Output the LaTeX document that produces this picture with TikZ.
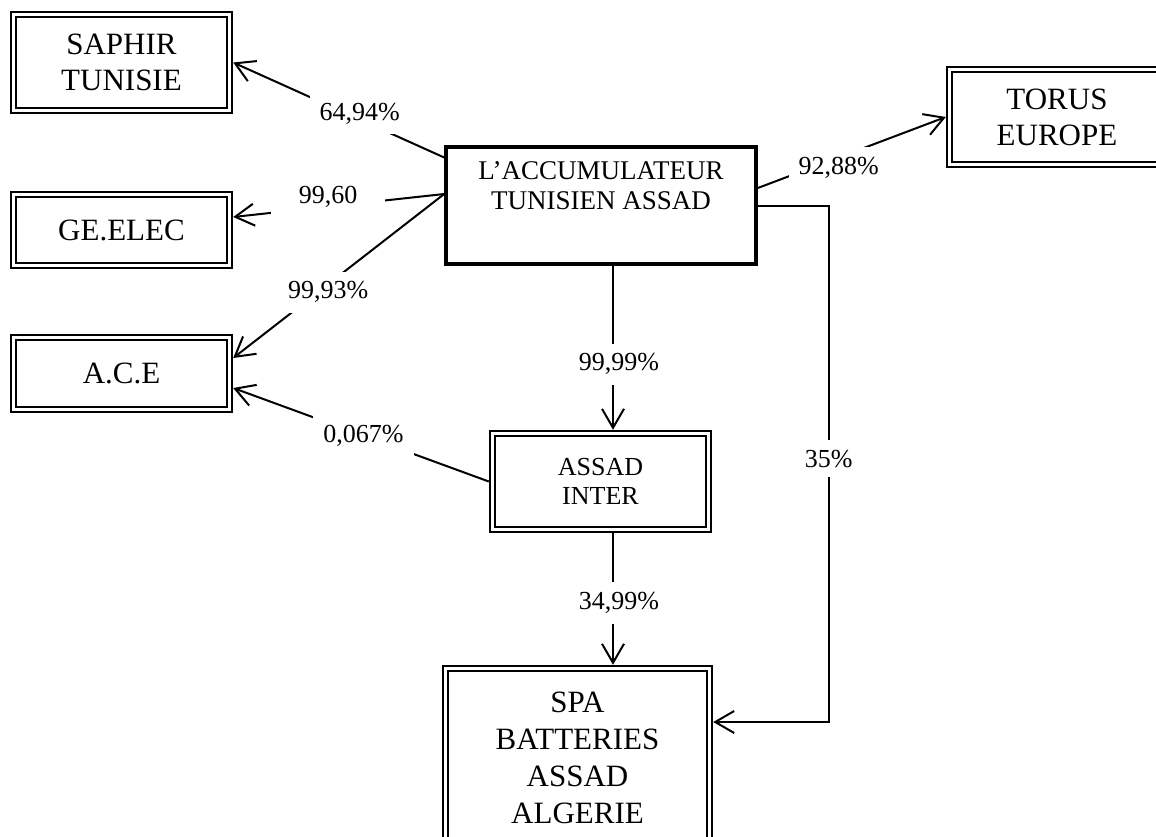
\documentclass[tikz,border=0pt]{standalone}
\usepackage{fontspec}
\setmainfont{Liberation Serif}
\usetikzlibrary{arrows.meta}

\begin{document}
\begin{tikzpicture}[x=0.5pt,y=-0.5pt,
    firm/.style={draw, double, line width=1.2pt, double distance=1.3pt, outer sep=1.85pt,
        inner sep=0pt, align=center, font=\fontsize{15.5}{18}\selectfont},
    parent/.style={draw, line width=1.8pt, inner sep=0pt, align=center,
        font=\fontsize{13.5}{15}\selectfont},
    share/.style={fill=white, inner sep=5pt, font=\fontsize{13}{15}\selectfont},
    link/.style={line width=1pt, -{Straight Barb[length=9.5pt,width=11pt]}}]
\useasboundingbox (0,0) rectangle (1156,836);

% Draw companies
\node[parent, minimum width=155pt, minimum height=58.5pt] (accu) at (601,205.5)
    {L’ACCUMULATEUR\\TUNISIEN ASSAD\\ \strut};
\node[firm, minimum width=108pt, minimum height=48pt] (saphir) at (121.5,62.5) {SAPHIR\\TUNISIE};
\node[firm, minimum width=108pt, minimum height=35.5pt] (geelec) at (121.5,230) {GE.ELEC};
\node[firm, minimum width=108pt, minimum height=36pt] (ace) at (121.5,373.5) {A.C.E};
\node[firm, minimum width=107.5pt, minimum height=47.5pt] (torus) at (1057,117) {TORUS\\EUROPE};
\node[firm, minimum width=108pt, minimum height=48pt, font=\fontsize{13}{14.5}\selectfont] (inter) at (600.5,481.5) {ASSAD\\INTER};
\node[firm, minimum width=132pt, minimum height=89pt, font=\fontsize{15.5}{18.5}\selectfont] (spa) at (577.5,757.5)
    {SPA\\BATTERIES\\ASSAD\\ALGERIE};

% Draw holdings
\draw[link] ([yshift=24pt]accu.west) -- node[share, pos=0.4, yshift=3pt] {64,94\%} (saphir.east);
\draw[link] ([yshift=5.75pt]accu.west) -- node[share, pos=0.55, yshift=5pt, inner xsep=14pt] {99,60} ([yshift=6.5pt]geelec.east);
\draw[link] ([yshift=5.75pt]accu.west) -- node[share, pos=0.55, yshift=-4pt] {99,93\%} ([yshift=7.75pt]ace.east);
\draw[link] (inter.west) -- node[share, pos=0.49] {0,067\%} ([yshift=-7.25pt]ace.east);
\draw[link] ([yshift=8.75pt]accu.east) -- node[share, pos=0.43, yshift=-5pt] {92,88\%} (torus.west);
\draw[link] ([xshift=6pt]accu.south) -- node[share, pos=0.6, xshift=3pt] {99,99\%} ([xshift=6.25pt]inter.north);
\draw[link] ([xshift=6.25pt]inter.south) -- node[share, pos=0.53, xshift=3pt] {34,99\%} ([xshift=17.75pt]spa.north);
\draw[link] (accu.east) -- ++(35.5pt,0) |- node[share, pos=0.245] {35\%} ([yshift=17.75pt]spa.east);
\end{tikzpicture}
\end{document}
